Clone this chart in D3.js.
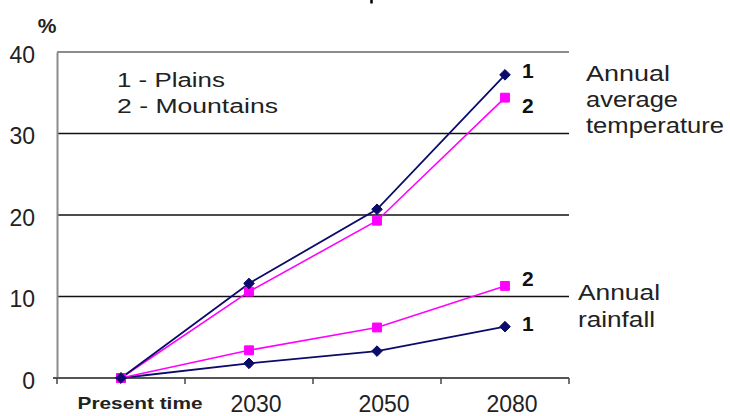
<!DOCTYPE html>
<html>
<head>
<meta charset="utf-8">
<script src="https://cdn.jsdelivr.net/npm/d3@7"></script>
<style>
  body { margin: 0; background: #fff; }
  svg { display: block; font-family: "Liberation Sans", Arial, sans-serif; }
</style>
</head>
<body>
<svg id="chart" width="730" height="416"></svg>
<script>
"use strict";

// categorias do eixo x
var periodos = ["Present time", "2030", "2050", "2080"];
var ticksY = [0, 10, 20, 30, 40];

// temperatura media anual (%)
var tempPlanicies = [0, 11.6, 20.7, 37.2];
var tempMontanhas = [0, 10.6, 19.3, 34.4];

// precipitacao anual (%)
var chuvaPlanicies = [0, 1.8, 3.3, 6.3];
var chuvaMontanhas = [0, 3.4, 6.2, 11.3];

var legenda = ["1 - Plains", "2 - Mountains"];

var svg = d3.select("#chart");
var margem = { left: 57, right: 161, top: 52, bottom: 38 };
var largura = 730 - margem.left - margem.right;
var altura = 416 - margem.top - margem.bottom;

var x = d3.scaleBand().domain(periodos).range([margem.left, margem.left + largura]);
var y = d3.scaleLinear().domain([0, 40]).range([margem.top + altura, margem.top]);

function centro(i) {
    return x(periodos[i]) + x.bandwidth() / 2;
}

// linhas de grade
svg.append("g")
    .selectAll("line")
    .data(ticksY.filter(function (d) { return d > 0; }))
    .enter().append("line")
    .attr("x1", margem.left)
    .attr("x2", margem.left + largura)
    .attr("y1", function (d) { return y(d); })
    .attr("y2", function (d) { return y(d); })
    .attr("stroke", function (d) { return d === 40 ? "#8c8c8c" : "#111"; })
    .attr("stroke-width", function (d) { return d === 40 ? 2 : 1.4; });

// eixo y
var eixoY = svg.append("g")
    .attr("transform", "translate(" + margem.left + ",0)")
    .call(d3.axisLeft(y).tickValues(ticksY).tickSize(0).tickPadding(22));
eixoY.select(".domain").attr("stroke", "#8c8c8c").attr("stroke-width", 2);
eixoY.selectAll("text")
    .attr("font-size", 23)
    .attr("fill", "#222")
    .attr("dy", "0.45em")
    .attr("font-family", "Liberation Sans, Arial, sans-serif");

// eixo x
var eixoX = svg.append("g")
    .attr("transform", "translate(0," + (margem.top + altura) + ")");
eixoX.append("line")
    .attr("x1", margem.left - 4)
    .attr("x2", margem.left + largura)
    .attr("stroke", "#555")
    .attr("stroke-width", 2);
eixoX.selectAll("line.tick")
    .data(periodos)
    .enter().append("line")
    .attr("class", "tick")
    .attr("x1", function (d) { return x(d) + x.bandwidth(); })
    .attr("x2", function (d) { return x(d) + x.bandwidth(); })
    .attr("y1", 0)
    .attr("y2", 6)
    .attr("stroke", "#444")
    .attr("stroke-width", 1.5);
eixoX.append("line")
    .attr("x1", margem.left).attr("x2", margem.left)
    .attr("y1", 0).attr("y2", 6)
    .attr("stroke", "#444").attr("stroke-width", 1.5);
eixoX.selectAll("text")
    .data(periodos)
    .enter().append("text")
    .attr("x", function (d, i) { return centro(i) + (i === 0 ? 19 : 7); })
    .attr("y", function (d, i) { return i === 0 ? 31 : 34; })
    .attr("text-anchor", "middle")
    .attr("font-size", function (d, i) { return i === 0 ? 16.5 : 23; })
    .attr("font-weight", function (d, i) { return i === 0 ? "bold" : "normal"; })
    .attr("textLength", function (d, i) { return i === 0 ? 125 : null; })
    .attr("lengthAdjust", "spacingAndGlyphs")
    .attr("fill", "#222")
    .text(function (d) { return d; });

// unidade
svg.append("text")
    .attr("x", 47).attr("y", 33)
    .attr("text-anchor", "middle")
    .attr("font-size", 21)
    .attr("font-weight", "bold")
    .attr("fill", "#222")
    .text("%");

// resto de traco cortado no topo da imagem
svg.append("line")
    .attr("x1", 371.5).attr("x2", 371.5)
    .attr("y1", 0).attr("y2", 3.5)
    .attr("stroke", "#000")
    .attr("stroke-width", 2.5);

var linha = d3.line()
    .x(function (d, i) { return centro(i); })
    .y(function (d) { return y(d); });

var series = [
    { valores: chuvaPlanicies, cor: "#0b0b6b", forma: "diamante", espessura: 1.8 },
    { valores: chuvaMontanhas, cor: "#ff00ff", forma: "quadrado", espessura: 1.6 },
    { valores: tempMontanhas, cor: "#ff00ff", forma: "quadrado", espessura: 1.6 },
    { valores: tempPlanicies, cor: "#0b0b6b", forma: "diamante", espessura: 1.8 }
];

series.forEach(function (s) {
    svg.append("path")
        .datum(s.valores)
        .attr("fill", "none")
        .attr("stroke", s.cor)
        .attr("stroke-width", s.espessura)
        .attr("d", linha);
});

series.forEach(function (s) {
    svg.append("g").selectAll("path")
        .data(s.valores)
        .enter().append("path")
        .attr("transform", function (d, i) {
            return "translate(" + centro(i) + "," + y(d) + ")";
        })
        .attr("d", s.forma === "diamante"
            ? d3.symbol().type(d3.symbolDiamond2).size(72)()
            : d3.symbol().type(d3.symbolSquare2).size(100)())
        .attr("fill", s.cor)
        .attr("stroke", s.cor)
        .attr("stroke-width", 1);
});

// numeros das series
var ultimo = periodos.length - 1;
var numeros = [
    { t: "1", v: tempPlanicies[ultimo], dy: 3 },
    { t: "2", v: tempMontanhas[ultimo], dy: 15 },
    { t: "2", v: chuvaMontanhas[ultimo], dy: 0 },
    { t: "1", v: chuvaPlanicies[ultimo], dy: 4 }
];
svg.selectAll("text.num")
    .data(numeros)
    .enter().append("text")
    .attr("class", "num")
    .attr("x", centro(ultimo) + 17)
    .attr("y", function (d) { return y(d.v) + d.dy; })
    .attr("font-size", 21)
    .attr("font-weight", "bold")
    .attr("fill", "#111")
    .text(function (d) { return d.t; });

// rotulos a direita
function rotulo(linhas, larguras, x0, y0, passo) {
    svg.append("g").selectAll("text")
        .data(linhas)
        .enter().append("text")
        .attr("x", x0)
        .attr("y", function (d, i) { return y0 + i * passo; })
        .attr("font-size", 22)
        .attr("fill", "#222")
        .attr("textLength", function (d, i) { return larguras[i]; })
        .attr("lengthAdjust", "spacingAndGlyphs")
        .text(function (d) { return d; });
}
rotulo(["Annual", "average", "temperature"], [84, 92, 138], 586, 81, 26);
rotulo(["Annual", "rainfall"], [82, 77], 578, 300, 27);

// legenda
var largLegenda = [108, 161];
svg.append("g").selectAll("text")
    .data(legenda)
    .enter().append("text")
    .attr("x", 117)
    .attr("y", function (d, i) { return 87 + i * 26; })
    .attr("font-size", 19.5)
    .attr("fill", "#222")
    .attr("textLength", function (d, i) { return largLegenda[i]; })
    .attr("lengthAdjust", "spacingAndGlyphs")
    .text(function (d) { return d; });
</script>
</body>
</html>
